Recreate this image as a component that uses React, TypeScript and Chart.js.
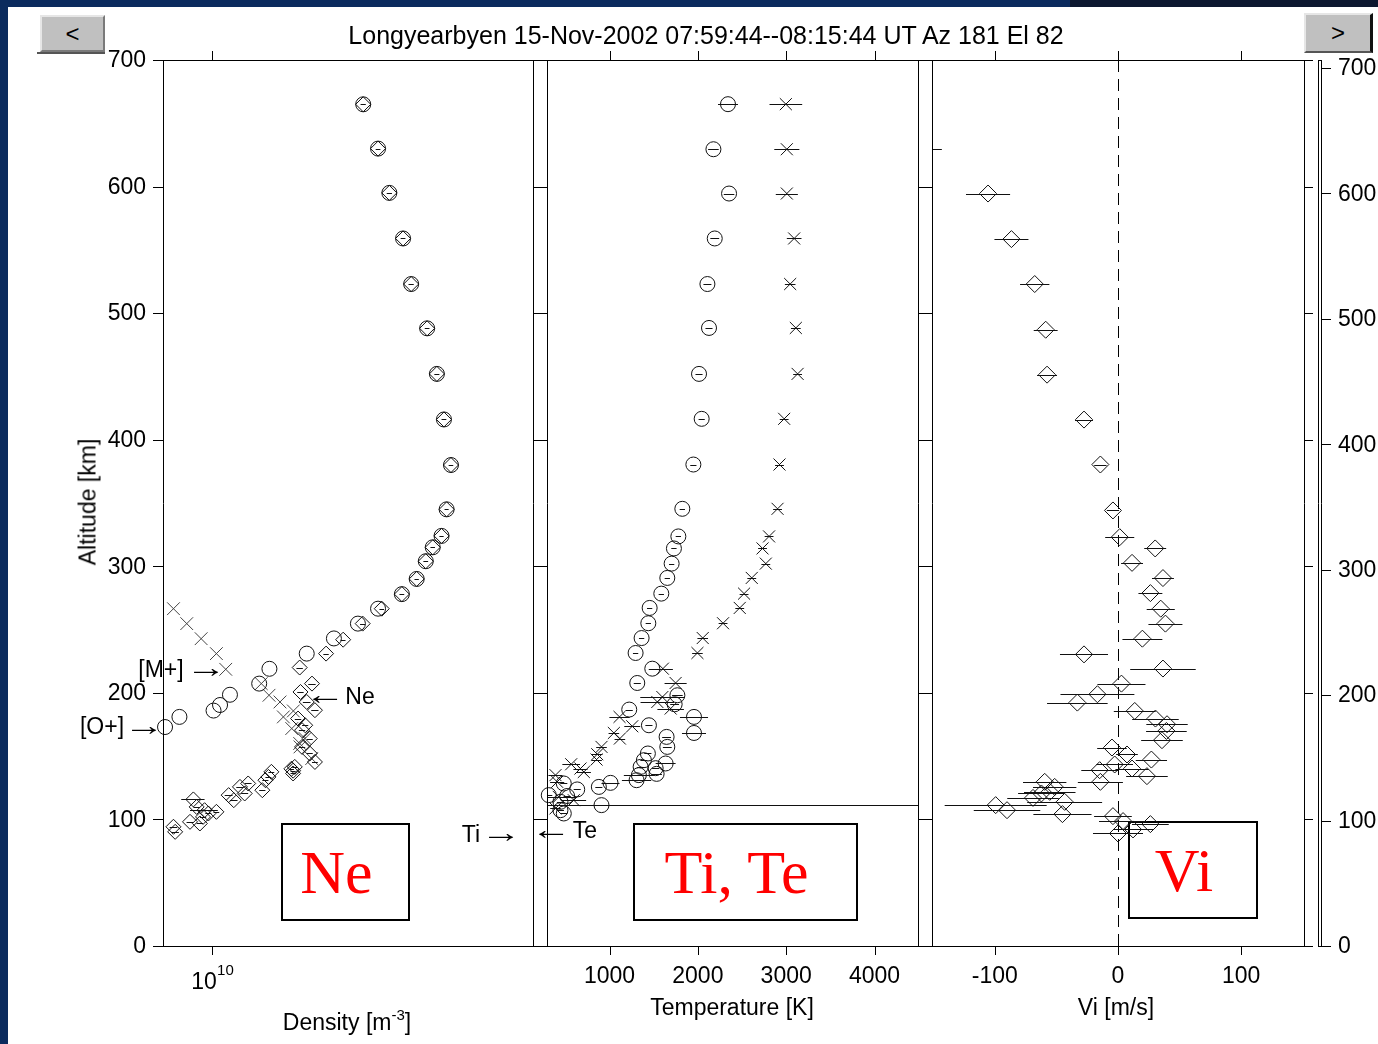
import React, { useEffect, useRef } from "react";
import { Chart, registerables } from "chart.js";

Chart.register(...registerables);

// ---------------- data ----------------
const altitudeTicks = [0, 100, 200, 300, 400, 500, 600, 700];
const densityTicks = [1e10];
const temperatureTicks = [1000, 2000, 3000, 4000];
const velocityTicks = [-100, 0, 100];

const altitudeRange = [0, 700];
const rightAltitudeRange = [0, 706.4];
const densityRange = [7.15e9, 8.97e10];
const temperatureRange = [292, 4492];
const velocityRange = [-151, 151];

// Electron density Ne (diamonds)
const neAlt = [665, 630, 595, 559, 523, 488, 452, 416, 380, 345, 324, 315, 304, 290, 278, 266.5, 254.7, 242, 231, 220, 207.3, 200.7, 192.8, 186.3, 179.7, 174.4, 170.5, 163.9, 157.3, 152.1, 145.4, 141.5, 140.0, 138.5, 137.6, 136.3, 133.6, 131.0, 128.4, 125.7, 123.1, 120.5, 119.2, 115.8, 115.2, 109.9, 107.3, 106.0, 104.7, 102.0, 98.1, 96.8, 94.2, 90.2];
const neDensity = [2.81e10, 3.11e10, 3.36e10, 3.69e10, 3.90e10, 4.35e10, 4.65e10, 4.88e10, 5.12e10, 4.97e10, 4.80e10, 4.52e10, 4.31e10, 4.05e10, 3.66e10, 3.19e10, 2.80e10, 2.45e10, 2.18e10, 1.82e10, 1.98e10, 1.83e10, 1.91e10, 2.02e10, 1.80e10, 1.89e10, 1.85e10, 1.95e10, 1.85e10, 1.95e10, 2.02e10, 1.76e10, 1.72e10, 1.74e10, 1.50e10, 1.74e10, 1.47e10, 1.44e10, 1.28e10, 1.21e10, 1.41e10, 1.25e10, 1.12e10, 0.88e10, 1.16e10, 0.90e10, 0.95e10, 1.03e10, 0.975e10, 0.94e10, 0.86e10, 0.92e10, 0.768e10, 0.777e10];
const neErr = [0.05e10, 0.05e10, 0.06e10, 0.06e10, 0.07e10, 0.07e10, 0.08e10, 0.08e10, 0.08e10, 0.07e10, 0.07e10, 0.07e10, 0.07e10, 0.06e10, 0.06e10, 0.05e10, 0.05e10, 0.04e10, 0.04e10, 0.04e10, 0.05e10, 0.04e10, 0.05e10, 0.05e10, 0.04e10, 0.04e10, 0.04e10, 0.04e10, 0.04e10, 0.04e10, 0.04e10, 0.03e10, 0.03e10, 0.03e10, 0.03e10, 0.03e10, 0.03e10, 0.03e10, 0.03e10, 0.03e10, 0.03e10, 0.03e10, 0.03e10, 0.07e10, 0.03e10, 0.02e10, 0.09e10, 0.02e10, 0.02e10, 0.02e10, 0.02e10, 0.02e10, 0.02e10, 0.02e10];

// [O+] (circles)
const oPlusAlt = [665, 630, 595, 559, 523, 488, 452, 416, 380, 345, 324, 315, 304, 290, 278, 266.5, 254.7, 243, 231, 219, 207.3, 198.5, 190.4, 186, 181, 173];
const oPlusDensity = [2.81e10, 3.11e10, 3.36e10, 3.69e10, 3.90e10, 4.35e10, 4.65e10, 4.88e10, 5.12e10, 4.97e10, 4.80e10, 4.52e10, 4.31e10, 4.05e10, 3.66e10, 3.11e10, 2.71e10, 2.30e10, 1.91e10, 1.48e10, 1.38e10, 1.13e10, 1.056e10, 1.01e10, 0.80e10, 0.725e10];

// [M+] (crosses)
const mPlusAlt = [266.5, 254.7, 242.8, 231.0, 218.6, 207.3, 198.1, 192.8, 185.7, 181.0, 171.8, 163.9, 160.0, 157.3, 148.1];
const mPlusDensity = [0.768e10, 0.841e10, 0.928e10, 1.03e10, 1.098e10, 1.40e10, 1.476e10, 1.591e10, 1.743e10, 1.628e10, 1.724e10, 1.888e10, 1.82e10, 1.824e10, 1.976e10];

// Ion temperature Ti (circles)
const tiAlt = [665.1, 629.5, 594.5, 559.0, 523.0, 488.3, 452.0, 416.5, 380.4, 345.4, 323.6, 314.1, 302.1, 290.8, 278.4, 267.1, 255.0, 243.3, 231.5, 219.1, 207.8, 198.1, 191.0, 186.8, 181.0, 174.4, 168.3, 165.2, 157.3, 152.1, 146.8, 144.2, 141.5, 140.5, 136.0, 135.0, 131.0, 128.9, 128.4, 125.7, 123.7, 119.2, 118.5, 113.9, 111.3, 107.3, 104.7];
const tiTemp = [2341, 2176, 2353, 2191, 2108, 2126, 2013, 2043, 1949, 1824, 1779, 1729, 1703, 1654, 1586, 1454, 1439, 1363, 1295, 1484, 1314, 1768, 1737, 1223, 1956, 1446, 1956, 1646, 1654, 1434, 1389, 1635, 1352, 1522, 1533, 1332, 1306, 1011, 482, 879, 634, 312, 520, 444, 909, 444, 482];
const tiErr = [113, 60, 60, 50, 45, 40, 40, 35, 35, 30, 30, 30, 30, 30, 30, 30, 30, 30, 30, 40, 40, 60, 50, 40, 159, 40, 136, 50, 50, 40, 40, 113, 40, 40, 60, 170, 166, 102, 40, 40, 40, 40, 40, 40, 4500, 40, 40];

// Electron temperature Te (stars)
const teAlt = [665.1, 629.5, 594.5, 559.0, 523.0, 488.3, 452.0, 416.5, 380.4, 345.4, 323.6, 314.1, 302.1, 290.8, 278.4, 267.1, 255.0, 243.3, 231.5, 219.1, 207.8, 196.7, 192.8, 187.6, 181.0, 173.6, 168.3, 163.9, 157.3, 151.5, 147.3, 143.6, 140.2, 137.5, 135.0, 129.7, 117.8, 115.2, 108.7];
const teTemp = [2996, 3007, 3007, 3090, 3045, 3109, 3129, 2977, 2924, 2902, 2806, 2732, 2769, 2610, 2523, 2474, 2285, 2055, 1995, 1604, 1748, 1598, 1541, 1692, 1113, 1257, 1049, 1117, 909, 861, 853, 566, 671, 709, 388, 407, 425, 595, 388];
const teErr = [185, 142, 125, 83, 60, 55, 50, 50, 50, 50, 50, 50, 50, 50, 50, 50, 50, 60, 60, 113, 125, 250, 190, 150, 115, 90, 60, 60, 60, 60, 60, 100, 80, 80, 80, 80, 200, 140, 60];

// Ion velocity Vi (diamonds)
const viAlt = [629.5, 594.5, 558.5, 523.0, 486.9, 451.4, 415.9, 380.4, 344.1, 323.0, 314.1, 302.7, 290.7, 278.8, 266.5, 254.7, 242.8, 230.4, 219.2, 207.3, 198.9, 192.3, 185.7, 179.7, 175.2, 169.9, 162.6, 156.8, 151.3, 147.3, 143.4, 140.2, 138.9, 134.2, 129.7, 129.7, 125.7, 121.8, 120.5, 117.0, 113.9, 111.3, 107.3, 104.2, 102.6, 98.7, 96.3, 92.1, 88.9];
const viVel = [-165, -105.5, -86.5, -67.6, -58.7, -57.6, -27.6, -14.3, -4.1, 1.4, 30.2, 11.4, 36.5, 26.3, 34.7, 38.5, 19.8, -27.6, 36.5, 2.8, -16.7, -33.0, 13.6, 30.4, 39.8, 39.3, 35.7, -4.9, 7.3, 27.1, -2.7, 11.4, -14.9, 23.5, -14.3, -59.5, -51.4, -55.4, -62.2, -69.0, -43.3, -99.3, -90.1, -45.1, -4.1, 4.1, 26.3, 12.2, 0];
const viErr = [22, 17.9, 13.8, 11.9, 9.7, 8.1, 7.3, 5, 5, 11.8, 8.9, 8.9, 8.9, 9.7, 11.4, 13.8, 16.2, 19.5, 26.6, 19.5, 30, 24.6, 17, 18.9, 16.8, 16.5, 16.9, 12, 8.8, 12.7, 14.9, 13.5, 14.9, 16.9, 18.3, 17.6, 17.6, 20.9, 18.9, 20.9, 30.4, 41.4, 27, 23.6, 15.3, 19.5, 14.9, 16.2, 20.3];

// ---------------- layout ----------------
const W = 1378;
const H = 1044;
const TOP = 60;
const BOTTOM = 946;
const FONT = "'Liberation Sans', Arial, Helvetica, sans-serif";
const INK = "#111";

const pts = (xs: number[], ys: number[]) => xs.map((x, i) => ({ x, y: ys[i] }));

const errorBarPlugin = {
  id: "errorBars",
  afterDatasetsDraw(chart: any) {
    const { ctx, chartArea: a, scales } = chart;
    ctx.save();
    ctx.beginPath();
    ctx.rect(a.left, a.top, a.right - a.left, a.bottom - a.top);
    ctx.clip();
    ctx.lineWidth = 1;
    chart.data.datasets.forEach((ds: any) => {
      if (!ds.errX) return;
      ctx.strokeStyle = ds.borderColor || INK;
      ds.data.forEach((p: any, i: number) => {
        const e = ds.errX[i];
        if (!e) return;
        const y = Math.round(scales.y.getPixelForValue(p.y)) + 0.5;
        const lo = p.x - e;
        const x1 = scales.x.getPixelForValue(lo > 0 || scales.x.type !== "logarithmic" ? lo : scales.x.min);
        const x2 = scales.x.getPixelForValue(p.x + e);
        ctx.beginPath();
        ctx.moveTo(x1, y);
        ctx.lineTo(x2, y);
        ctx.stroke();
      });
    });
    ctx.restore();
  },
};

type AxesCfg = {
  xTicks: number[];
  pow10?: boolean;
  leftLabels?: boolean;
  rightTick: number;
  gap: number;
  zeroLine?: boolean;
  extraAxis?: boolean;
};

const axesPlugin = (cfg: AxesCfg) => ({
  id: "matlabAxes",
  beforeDatasetsDraw(chart: any) {
    if (!cfg.zeroLine) return;
    const { ctx, chartArea: a, scales } = chart;
    const x0 = Math.round(scales.x.getPixelForValue(0)) + 0.5;
    ctx.save();
    ctx.strokeStyle = "#000";
    ctx.lineWidth = 1;
    ctx.setLineDash([12, 7]);
    ctx.beginPath();
    ctx.moveTo(x0, a.top);
    ctx.lineTo(x0, a.bottom);
    ctx.stroke();
    ctx.restore();
  },
  afterDraw(chart: any) {
    const { ctx, chartArea: a, scales } = chart;
    const L = a.left, R = a.right, T = a.top, B = a.bottom;
    const h = (v: number) => Math.round(v) + 0.5;
    ctx.save();
    ctx.strokeStyle = "#000";
    ctx.lineWidth = 1;
    const line = (x1: number, y1: number, x2: number, y2: number) => {
      ctx.beginPath();
      ctx.moveTo(x1, y1);
      ctx.lineTo(x2, y2);
      ctx.stroke();
    };
    // frame
    line(h(L), T, h(L), B + 1);
    line(h(R), T, h(R), B + 1);
    line(L, h(T), R + cfg.gap + 1, h(T));
    line(L, h(B), R + cfg.gap + 1, h(B));
    // x ticks top & bottom
    cfg.xTicks.forEach((v) => {
      const px = h(scales.x.getPixelForValue(v));
      line(px, T, px, T - 9);
      line(px, B, px, B + 9);
    });
    // y ticks
    altitudeTicks.forEach((v) => {
      const py = h(scales.y.getPixelForValue(v));
      if (cfg.leftLabels) line(L - 10, py, L, py);
      line(R, py, R + cfg.rightTick, py);
    });
    ctx.fillStyle = "#000";
    ctx.font = `23px ${FONT}`;
    ctx.textBaseline = "middle";
    if (cfg.leftLabels) {
      ctx.textAlign = "right";
      altitudeTicks.forEach((v) => {
        ctx.fillText(String(v), L - 17, scales.y.getPixelForValue(v) + 1);
      });
    }
    // x tick labels
    cfg.xTicks.forEach((v) => {
      const px = scales.x.getPixelForValue(v);
      if (cfg.pow10) {
        const exp = Math.round(Math.log10(v));
        ctx.textAlign = "center";
        ctx.font = `23px ${FONT}`;
        ctx.fillText("10", px - 8, 983);
        ctx.textAlign = "left";
        ctx.font = `15px ${FONT}`;
        ctx.fillText(String(exp), px + 5, 971);
      } else {
        ctx.textAlign = "center";
        ctx.font = `23px ${FONT}`;
        ctx.fillText(String(v), px, 977);
      }
    });
    // extra right axis
    if (cfg.extraAxis) {
      const y2 = scales.y2;
      line(1318.5, T, 1318.5, B + 1);
      line(1321.5, T, 1321.5, B + 1);
      line(1318, h(T), 1322, h(T));
      line(1318, h(B), 1322, h(B));
      ctx.textAlign = "left";
      ctx.font = `23px ${FONT}`;
      altitudeTicks.forEach((v) => {
        const py = y2.getPixelForValue(v);
        line(1322, h(py), 1331, h(py));
        ctx.fillText(String(v), 1338, py + 1);
      });
    }
    ctx.restore();
  },
});

function panelConfig(
  left: number,
  right: number,
  xType: string,
  xRange: number[],
  datasets: any[],
  cfg: AxesCfg
): any {
  const scales: any = {
    x: { type: xType, min: xRange[0], max: xRange[1], display: false },
    y: { type: "linear", min: altitudeRange[0], max: altitudeRange[1], display: false },
  };
  if (cfg.extraAxis) {
    scales.y2 = {
      type: "linear",
      position: "right",
      min: rightAltitudeRange[0],
      max: rightAltitudeRange[1],
      display: false,
    };
  }
  return {
    type: "scatter",
    data: { datasets },
    options: {
      responsive: false,
      maintainAspectRatio: false,
      animation: false,
      devicePixelRatio: 1,
      events: [],
      layout: { padding: { left, right: W - right, top: TOP, bottom: H - BOTTOM } },
      plugins: { legend: { display: false }, tooltip: { enabled: false } },
      scales,
    },
    plugins: [axesPlugin(cfg), errorBarPlugin],
  };
}

const marker = (style: string, radius: any, color = INK) => ({
  pointStyle: style,
  pointRadius: radius,
  pointBorderWidth: 1,
  pointBorderColor: color,
  pointBackgroundColor: "rgba(0,0,0,0)",
  borderColor: color,
  backgroundColor: "rgba(0,0,0,0)",
  showLine: false,
  clip: false,
});

function Txt(props: { x: number; y: number; size?: number; children: any; style?: any }) {
  const { x, y, size = 23, children, style } = props;
  return (
    <div
      style={{
        position: "absolute",
        left: x,
        top: y,
        transform: "translate(-50%, -50%)",
        fontSize: size,
        lineHeight: 1,
        whiteSpace: "nowrap",
        color: "#000",
        ...style,
      }}
    >
      {children}
    </div>
  );
}

// thin annotation arrow (real text glyph, stretched horizontally)
function Arrow(props: { x: number; y: number; dir: "left" | "right" }) {
  return (
    <Txt
      x={props.x}
      y={props.y - 3}
      size={29}
      style={{ transform: "translate(-50%, -50%) scaleX(1.4)" }}
    >
      {props.dir === "right" ? "→" : "←"}
    </Txt>
  );
}

function LabelBox(props: { x: number; y: number; w: number; h: number; text: string }) {
  const { x, y, w, h, text } = props;
  return (
    <div
      style={{
        position: "absolute",
        left: x,
        top: y,
        width: w,
        height: h,
        boxSizing: "border-box",
        border: "2px solid #000",
        paddingRight: 18,
        display: "flex",
        alignItems: "center",
        justifyContent: "center",
        color: "#ff0000",
        fontFamily: "'Liberation Serif', 'Times New Roman', serif",
        fontSize: 62,
        lineHeight: 1,
        whiteSpace: "nowrap",
      }}
    >
      {text}
    </div>
  );
}

export default function App() {
  const c1 = useRef<HTMLCanvasElement>(null);
  const c2 = useRef<HTMLCanvasElement>(null);
  const c3 = useRef<HTMLCanvasElement>(null);

  useEffect(() => {
    const neChart = new Chart(
      c1.current as HTMLCanvasElement,
      panelConfig(
        163,
        533,
        "logarithmic",
        densityRange,
        [
          { label: "[O+]", data: pts(oPlusDensity, oPlusAlt), ...marker("circle", 7.5) },
          { label: "Ne", data: pts(neDensity, neAlt), errX: neErr, ...marker("rectRot", 7.5) },
          { label: "[M+]", data: pts(mPlusDensity, mPlusAlt), ...marker("crossRot", 9, "#444") },
        ],
        { xTicks: densityTicks, pow10: true, leftLabels: true, rightTick: 14, gap: 14 }
      )
    );
    const tChart = new Chart(
      c2.current as HTMLCanvasElement,
      panelConfig(
        547,
        918,
        "linear",
        temperatureRange,
        [
          { label: "Ti", data: pts(tiTemp, tiAlt), errX: tiErr, ...marker("circle", 7.5) },
          { label: "Te", data: pts(teTemp, teAlt), errX: teErr, ...marker("crossRot", 8.5) },
        ],
        { xTicks: temperatureTicks, rightTick: 14, gap: 14 }
      )
    );
    const vChart = new Chart(
      c3.current as HTMLCanvasElement,
      panelConfig(
        932,
        1304,
        "linear",
        velocityRange,
        [
          {
            label: "Vi",
            data: pts(viVel, viAlt),
            errX: viErr,
            ...marker("rectRot", (ctx: any) => {
              const v = ctx.raw ? ctx.raw.x : 0;
              return v < velocityRange[0] || v > velocityRange[1] ? 0 : 8.5;
            }),
          },
        ],
        { xTicks: velocityTicks, rightTick: 9, gap: 0, zeroLine: true, extraAxis: true }
      )
    );
    return () => {
      neChart.destroy();
      tChart.destroy();
      vChart.destroy();
    };
  }, []);

  const canvasStyle: any = { position: "absolute", left: 0, top: 0, width: W, height: H };

  return (
    <div
      style={{
        position: "fixed",
        left: 0,
        top: 0,
        width: W,
        height: H,
        background: "#fff",
        overflow: "hidden",
        fontFamily: FONT,
      }}
    >
      {/* slide frame */}
      <div style={{ position: "absolute", left: 0, top: 0, width: W, height: 7, background: "#0b2b5e" }} />
      <div style={{ position: "absolute", left: 1070, top: 0, width: W - 1070, height: 7, background: "#0d1830" }} />
      <div style={{ position: "absolute", left: 0, top: 0, width: 8, height: H, background: "#0b2b5e" }} />

      {/* labelled boxes */}
      <LabelBox x={281} y={823} w={129} h={98} text="Ne" />
      <LabelBox x={633} y={823} w={225} h={98} text="Ti, Te" />
      <LabelBox x={1128} y={821} w={130} h={98} text="Vi" />

      <canvas ref={c1} width={W} height={H} style={canvasStyle} />
      <canvas ref={c2} width={W} height={H} style={canvasStyle} />
      <canvas ref={c3} width={W} height={H} style={canvasStyle} />

      {/* title */}
      <Txt x={706} y={35} size={25}>
        Longyearbyen 15-Nov-2002 07:59:44--08:15:44 UT Az 181 El 82
      </Txt>

      {/* axis titles */}
      <Txt x={88} y={502} style={{ transform: "translate(-50%, -50%) rotate(-90deg)" }}>
        Altitude [km]
      </Txt>
      <Txt x={347} y={1022}>
        Density [m<span style={{ fontSize: 15, position: "relative", top: -10 }}>-3</span>]
      </Txt>
      <Txt x={732} y={1007}>Temperature [K]</Txt>
      <Txt x={1116} y={1007}>Vi [m/s]</Txt>

      {/* annotations */}
      <Txt x={161} y={669}>[M+]</Txt>
      <Arrow x={206} y={670} dir="right" />
      <Txt x={102} y={726}>[O+]</Txt>
      <Arrow x={144} y={728} dir="right" />
      <Arrow x={325} y={697} dir="left" />
      <Txt x={360} y={696}>Ne</Txt>
      <Txt x={471} y={834}>Ti</Txt>
      <Arrow x={501} y={835} dir="right" />
      <Arrow x={551} y={832} dir="left" />
      <Txt x={585} y={830}>Te</Txt>

      {/* navigation buttons */}
      <div
        style={{
          position: "absolute",
          left: 40,
          top: 15,
          width: 65,
          height: 37,
          boxSizing: "border-box",
          background: "#c0c0c0",
          borderTop: "2px solid #e6e6e6",
          borderLeft: "2px solid #e6e6e6",
          borderBottom: "2px solid #7a7a7a",
          borderRight: "2px solid #7a7a7a",
          display: "flex",
          alignItems: "center",
          justifyContent: "center",
          fontSize: 24,
          lineHeight: 1,
        }}
      >
        &lt;
      </div>
      <div style={{ position: "absolute", left: 37, top: 52, width: 68, height: 2, background: "#555" }} />
      <div
        style={{
          position: "absolute",
          left: 1304,
          top: 13,
          width: 69,
          height: 40,
          boxSizing: "border-box",
          background: "#c0c0c0",
          borderTop: "2px solid #e6e6e6",
          borderLeft: "2px solid #e6e6e6",
          borderBottom: "2px solid #555",
          borderRight: "3px solid #111",
          display: "flex",
          alignItems: "center",
          justifyContent: "center",
          fontSize: 24,
          lineHeight: 1,
        }}
      >
        &gt;
      </div>
    </div>
  );
}
